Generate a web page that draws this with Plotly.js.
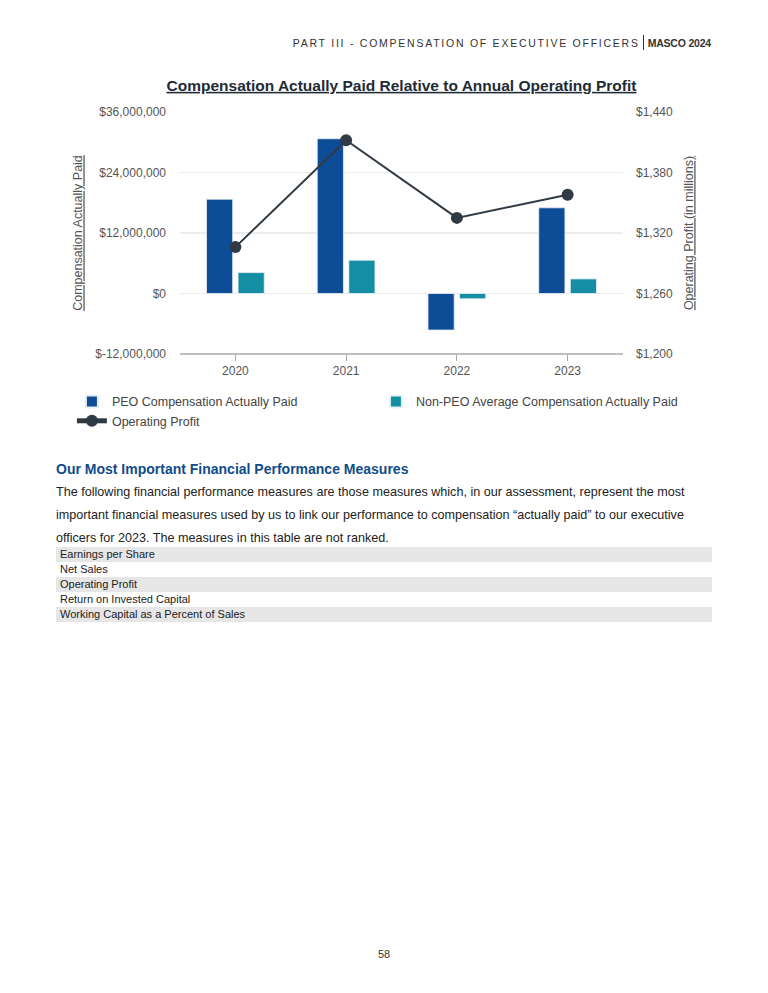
<!DOCTYPE html>
<html>
<head>
<meta charset="utf-8">
<script src="https://cdn.plot.ly/plotly-3.0.1.min.js"></script>
<style>
  html, body { margin:0; padding:0; background:#fff; width:768px; height:993px; overflow:hidden; font-family:"Liberation Sans", Arial, sans-serif; }
  #page { position:relative; width:768px; height:993px; }
  #hdr { position:absolute; top:35px; right:57px; font-size:10.5px; color:#333; white-space:nowrap; }
  #hdr .part { letter-spacing:1.75px; }
  #hdr .bar { display:inline-block; width:1px; height:15px; background:#333; vertical-align:-3px; margin:0 4px 0 3px; }
  #hdr .masco { font-weight:bold; letter-spacing:-0.2px; }
  #chart { position:absolute; left:0; top:0; width:768px; height:460px; }
  #h2 { position:absolute; left:56px; top:461px; font-size:14px; font-weight:bold; color:#0f4c8a; }
  #para { position:absolute; left:56px; top:481px; width:670px; font-size:12.6px; line-height:23px; color:#222; }
  #tbl { position:absolute; left:56px; top:547px; width:656px; border-collapse:collapse; font-size:11px; color:#222; }
  #tbl td { height:15px; padding:0 0 0 4px; line-height:15px; }
  #tbl tr.g td { background:#e6e6e6; }
  #pg { position:absolute; top:948px; left:0; width:768px; text-align:center; font-size:11px; color:#333; }
</style>
</head>
<body>
<div id="page">
  <div id="hdr"><span class="part">PART III - COMPENSATION OF EXECUTIVE OFFICERS</span><span class="bar"></span><span class="masco">MASCO 2024</span></div>
  <div id="chart"></div>
  <div id="h2">Our Most Important Financial Performance Measures</div>
  <div id="para">The following financial performance measures are those measures which, in our assessment, represent the most important financial measures used by us to link our performance to compensation “actually paid” to our executive officers for 2023. The measures in this table are not ranked.</div>
  <table id="tbl"></table>
  <div id="pg">58</div>
</div>
<script>
// ---- data ----
var years = ["2020", "2021", "2022", "2023"];
var peoCAP = [18700000, 30700000, -7250000, 17000000];
var nonPeoCAP = [4150000, 6600000, -1050000, 2900000];
var operatingProfit = [1306, 1412, 1335, 1358];

var leftTickVals = [-12000000, 0, 12000000, 24000000, 36000000];
var leftTickText = ["$-12,000,000", "$0", "$12,000,000", "$24,000,000", "$36,000,000"];
var rightTickVals = [1200, 1260, 1320, 1380, 1440];
var rightTickText = ["$1,200", "$1,260", "$1,320", "$1,380", "$1,440"];

var measures = ["Earnings per Share", "Net Sales", "Operating Profit", "Return on Invested Capital", "Working Capital as a Percent of Sales"];

// ---- table ----
var tbl = document.getElementById("tbl");
measures.forEach(function (m, i) {
  var tr = document.createElement("tr");
  if (i % 2 === 0) tr.className = "g";
  var td = document.createElement("td");
  td.textContent = m;
  tr.appendChild(td);
  tbl.appendChild(tr);
});

// ---- chart ----
var traces = [
  { type: "bar", name: "PEO Compensation Actually Paid", x: years, y: peoCAP,
    marker: { color: "#0d4c96", line: { color: "#e8eef5", width: 0.8 } }, yaxis: "y" },
  { type: "bar", name: "Non-PEO Average Compensation Actually Paid", x: years, y: nonPeoCAP,
    marker: { color: "#148ea3", line: { color: "#e8f3f5", width: 0.8 } }, yaxis: "y" },
  { type: "scatter", mode: "lines+markers", name: "Operating Profit", x: years, y: operatingProfit,
    line: { color: "#2f3a45", width: 2 }, marker: { color: "#2f3a45", size: 12 }, yaxis: "y2" }
];

var tickFont = { family: "Liberation Sans, Arial, sans-serif", size: 12, color: "#555" };

var layout = {
  width: 768, height: 460,
  margin: { l: 180, r: 145, t: 112, b: 106 },
  paper_bgcolor: "rgba(0,0,0,0)", plot_bgcolor: "rgba(0,0,0,0)",
  font: { family: "Liberation Sans, Arial, sans-serif", color: "#444" },
  title: { text: "<span style='text-decoration:underline'>Compensation Actually Paid Relative to Annual Operating Profit</span>",
    font: { size: 15.5, color: "#1e2b36", weight: "bold" }, x: 0.5, xanchor: "center", xref: "paper",
    y: 1, yref: "container", yanchor: "top", pad: { t: 80 } },
  barmode: "group", bargap: 0.43, bargroupgap: 0.17,
  showlegend: true,
  legend: { orientation: "h", x: -0.244, xanchor: "left", y: -0.136, yanchor: "top",
    entrywidth: 259, entrywidthmode: "pixels", traceorder: "normal",
    font: { size: 12.5, color: "#444" }, itemsizing: "constant" },
  xaxis: { type: "category", range: [-0.5, 3.5], showgrid: false, zeroline: false,
    showline: false, ticks: "outside", ticklen: 6, tickcolor: "#aaa", tickfont: tickFont,
    fixedrange: true },
  yaxis: { range: [-12000000, 36000000], tickmode: "array", tickvals: leftTickVals, ticktext: leftTickText,
    showgrid: true, gridcolor: "#ececec", gridwidth: 1.5, zeroline: true, zerolinecolor: "#ececec", zerolinewidth: 1.5,
    showline: false, tickfont: tickFont, ticklen: 0, ticks: "", ticklabelstandoff: 13,
    title: { text: "<span style='text-decoration:underline'>Compensation Actually Paid</span>", font: { size: 12.5, color: "#555" }, standoff: 9 } },
  yaxis2: { overlaying: "y", side: "right", range: [1200, 1440], tickmode: "array",
    tickvals: rightTickVals, ticktext: rightTickText, showgrid: false, zeroline: false,
    tickfont: tickFont, ticks: "", ticklabelstandoff: 12,
    title: { text: "<span style='text-decoration:underline'>Operating Profit (in millions)</span>", font: { size: 12.5, color: "#555" }, standoff: 12 } },
  shapes: [
    { type: "line", xref: "paper", yref: "paper", x0: 0, x1: 1, y0: 0, y1: 0, line: { color: "#aaa", width: 1.5 } }
  ]
};

Plotly.newPlot("chart", traces, layout, { displayModeBar: false, staticPlot: true });
</script>
</body>
</html>
